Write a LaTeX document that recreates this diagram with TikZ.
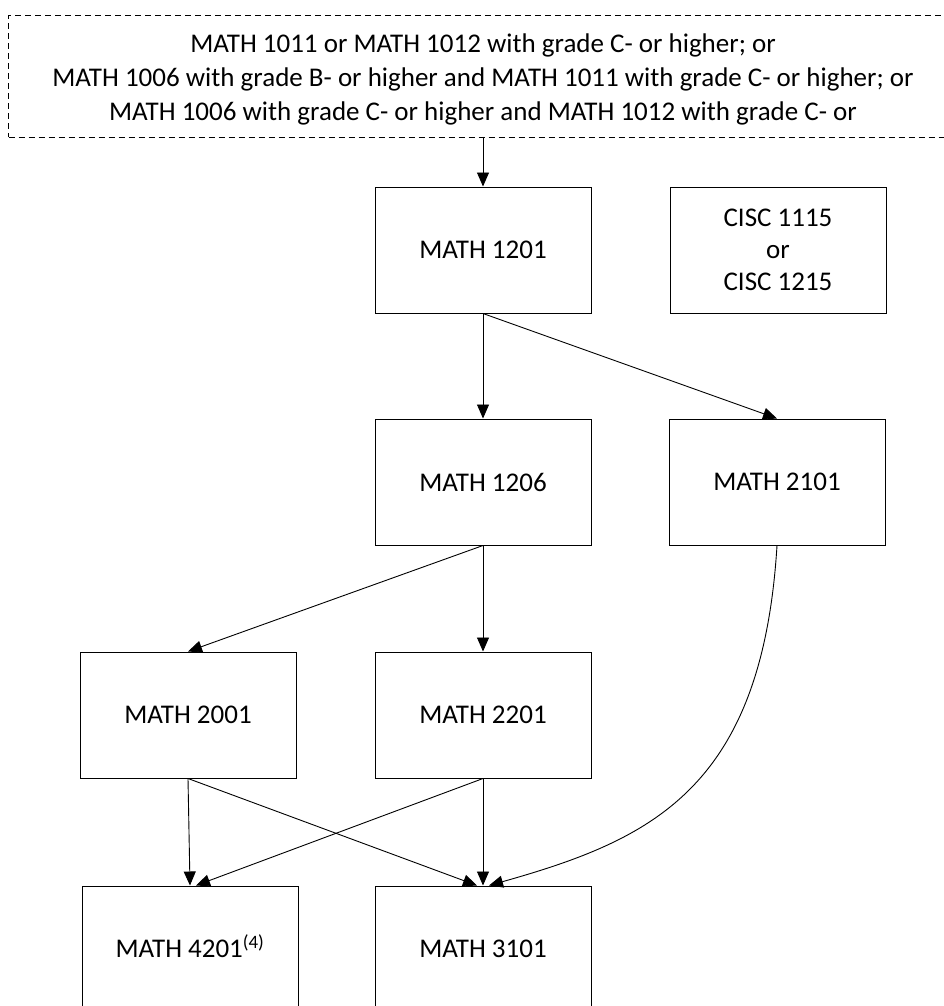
\documentclass[tikz,border=0pt]{standalone}
\usepackage{fontspec}
\setmainfont{Carlito}
\usetikzlibrary{arrows.meta}
\begin{document}
\begin{tikzpicture}[x=1pt,y=-1pt,
  course/.style={draw,line width=1pt,minimum width=216pt,minimum height=126pt,inner sep=0pt,font=\fontsize{27}{32}\selectfont,align=center},
  arr/.style={line width=0.9pt,-{Triangle[length=14pt,width=12pt]}}]
\useasboundingbox (0,0) rectangle (943,1006);
\fill[white] (0,0) rectangle (943,1006);
\node[draw,dashed,line width=1pt,dash pattern=on 6pt off 4pt,minimum width=1000pt,minimum height=122pt,anchor=north west,inner sep=0pt] (pre) at (8,15) {};
\node[align=center,font=\fontsize{27}{34}\selectfont] (pretext) at (483,79) {MATH 1011 or MATH 1012 with grade C- or higher; or\\MATH 1006 with grade B- or higher and MATH 1011 with grade C- or higher; or\\MATH 1006 with grade C- or higher and MATH 1012 with grade C- or};
\coordinate (prebot) at (483,137);
\node[course] (m1201) at (483,250) {MATH 1201};
\node[course] (cisc) at (778,250) {CISC 1115\\or\\CISC 1215};
\node[course] (m1206) at (483,482) {MATH 1206};
\node[course] (m2101) at (777,482) {MATH 2101};
\node[course] (m2001) at (188,715) {MATH 2001};
\node[course] (m2201) at (483,715) {MATH 2201};
\node[course] (m4201) at (190,949) {MATH 4201\smash{\textsuperscript{(4)}}};
\node[course] (m3101) at (483,949) {MATH 3101};
\draw[arr] (prebot) -- (m1201.north);
\draw[arr] (m1201.south) -- (m1206.north);
\draw[arr] (m1201.south) -- (m2101.north);
\draw[arr] (m1206.south) -- (m2001.north);
\draw[arr] (m1206.south) -- (m2201.north);
\draw[arr] (m2001.south) -- (m4201.north);
\draw[arr] (m2001.south) -- ([xshift=-6pt]m3101.north);
\draw[arr] (m2201.south) -- ([xshift=6pt]m4201.north);
\draw[arr] (m2201.south) -- (m3101.north);
\draw[arr] (m2101.south) .. controls (762,790) and (650,840) .. ([xshift=6pt]m3101.north);
\end{tikzpicture}
\end{document}
